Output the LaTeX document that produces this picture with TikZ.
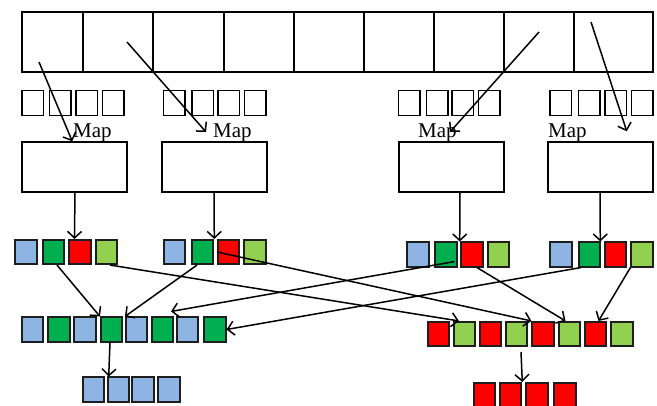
\documentclass[tikz,border=0pt]{standalone}
\usepackage{fontspec}
\setmainfont{Liberation Serif}
\usetikzlibrary{arrows.meta,calc}
\definecolor{kblue}{RGB}{141,180,226}
\definecolor{kgreen}{RGB}{0,176,80}
\definecolor{kred}{RGB}{255,0,0}
\definecolor{klime}{RGB}{146,208,80}
\definecolor{kedge}{RGB}{30,30,30}
\tikzset{
  frame/.style={draw, line width=1.5pt, inner sep=0pt},
  split/.style={frame, minimum height=60pt},
  slot/.style={frame, minimum width=21.5pt, minimum height=25pt},
  mapbox/.style={frame, minimum width=105pt, minimum height=50pt},
  cell/.style={draw=kedge, line width=1.6pt, inner sep=0pt, minimum width=21.5pt, minimum height=24.5pt},
  kb/.style={cell, fill=kblue},
  kg/.style={cell, fill=kgreen},
  kr/.style={cell, fill=kred},
  kl/.style={cell, fill=klime},
  lbl/.style={anchor=base west, inner sep=0pt, font=\fontsize{21}{21}\selectfont},
  arr/.style={line width=1.5pt, -{Straight Barb[length=6.5pt,width=14pt]}}
}
\begin{document}
\begin{tikzpicture}[x=1pt,y=-1pt]
\useasboundingbox (0,0) rectangle (657,405);

% input split into blocks
\node[split, minimum width=61pt] (s1) at (52.5,42) {};
\node[split, minimum width=70pt] (s2) at (118,42) {};
\node[split, minimum width=71pt] (s3) at (188.5,42) {};
\node[split, minimum width=70pt] (s4) at (259,42) {};
\node[split, minimum width=70pt] (s5) at (329,42) {};
\node[split, minimum width=70pt] (s6) at (399,42) {};
\node[split, minimum width=70pt] (s7) at (469,42) {};
\node[split, minimum width=70pt] (s8) at (539,42) {};
\node[split, minimum width=79pt] (s9) at (613.5,42) {};

% empty record slots
\foreach \x [count=\i] in {32.5,60,86.5,113} \node[slot] (p1\i) at (\x,103) {};
\foreach \x [count=\i] in {174,202.5,228.5,255} \node[slot] (p2\i) at (\x,103) {};
\foreach \x [count=\i] in {409,437,462.5,489} \node[slot] (p3\i) at (\x,103) {};
\foreach \x [count=\i] in {560.5,589,615.5,642} \node[slot] (p4\i) at (\x,103) {};

% map tasks
\node[mapbox] (m1) at (74.5,167) {};
\node[mapbox] (m2) at (214.5,167) {};
\node[mapbox] (m3) at (451.5,167) {};
\node[mapbox] (m4) at (600.5,167) {};

\node[lbl] (t1) at (73,137) {Map};
\node[lbl] (t2) at (213,137) {Map};
\node[lbl] (t3) at (418,137) {Map};
\node[lbl] (t4) at (548,137) {Map};

% map outputs
\node[kb] (a1) at (26,252) {};
\node[kg] (a2) at (53.5,252) {};
\node[kr] (a3) at (80,252) {};
\node[kl] (a4) at (106.5,252) {};
\node[kb] (b1) at (174.5,252) {};
\node[kg] (b2) at (202.5,252) {};
\node[kr] (b3) at (228.5,252) {};
\node[kl] (b4) at (255,252) {};
\node[kb] (c1) at (418,254.5) {};
\node[kg] (c2) at (446,254.5) {};
\node[kr] (c3) at (472,254.5) {};
\node[kl] (c4) at (498.5,254.5) {};
\node[kb] (d1) at (561,254.5) {};
\node[kg] (d2) at (589.5,254.5) {};
\node[kr] (d3) at (615.5,254.5) {};
\node[kl] (d4) at (642,254.5) {};

% shuffled partitions
\node[kb] (L1) at (32.5,329.5) {};
\node[kg] (L2) at (59,329.5) {};
\node[kb] (L3) at (85,329.5) {};
\node[kg] (L4) at (111.5,329.5) {};
\node[kb] (L5) at (136.5,329.5) {};
\node[kg] (L6) at (162.5,329.5) {};
\node[kb] (L7) at (187.5,329.5) {};
\node[kg] (L8) at (215,329.5) {};
\node[kr] (R1) at (438.5,334) {};
\node[kl] (R2) at (464.5,334) {};
\node[kr] (R3) at (490.5,334) {};
\node[kl] (R4) at (516.5,334) {};
\node[kr] (R5) at (543,334) {};
\node[kl] (R6) at (569.5,334) {};
\node[kr] (R7) at (595.5,334) {};
\node[kl] (R8) at (622,334) {};

% reduced results
\foreach \x [count=\i] in {93.5,118.5,143,169} \node[kb] (u\i) at (\x,389.5) {};
\foreach \x [count=\i] in {484.5,510.5,537,565} \node[kr] (v\i) at (\x,395) {};

% split -> map
\coordinate (q1) at (39,62);
\coordinate (q2) at (127,42);
\coordinate (q3) at (539,32);
\coordinate (q4) at (591,22);
\draw[arr] (q1) -- ($(m1.north west)+(51,0)$);
\draw[arr] (q2) -- ($(t2.base west)+(-7,-5)$);
\draw[arr] (q3) -- ($(t3.base west)+(32,-5)$);
\draw[arr] (q4) -- ($(m4.north east)+(-27,-10)$);

% map -> outputs
\draw[arr] ($(m1.south)+(0.5,0)$) -- ($(a3.north west)+(6,0)$);
\draw[arr] ($(m2.south)+(-0.5,0)$) -- ($(b2.north east)+(0.25,0)$);
\draw[arr] ($(m3.south)+(8.5,0)$) -- ($(c3.north west)+(-0.75,0)$);
\draw[arr] ($(m4.south)+(-0.5,0)$) -- ($(d2.north east)+(-0.75,0)$);

% shuffle
\draw[arr] ($(a2.south)+(3.5,0)$) -- (L4.north west);
\draw[arr] ($(b2.south)+(-5.5,0)$) -- (L5.north west);
\draw[arr] ($(a4.south)+(3.5,0)$) -- ($(R2.north west)+(6,0)$);
\draw[arr] (b3.west) -- (R5.north west);
\draw[arr] ($(c2.south east)+(-3,-6)$) -- ($(L6.north east)+(-3,-5)$);
\draw[arr] ($(d2.south west)+(3,0)$) -- (L8.east);
\draw[arr] ($(c3.south)+(5,0)$) -- ($(R6.north)+(-4,0)$);
\draw[arr] (d4.south west) -- ($(R7.north)+(3,0)$);

% reduce
\draw[arr] ($(L4.south)+(-1.5,0)$) -- ($(u2.north west)+(1.75,0)$);
\coordinate (rr) at (521,352);
\draw[arr] (rr) -- ($(v2.north east)+(0.25,0)$);
\end{tikzpicture}
\end{document}
